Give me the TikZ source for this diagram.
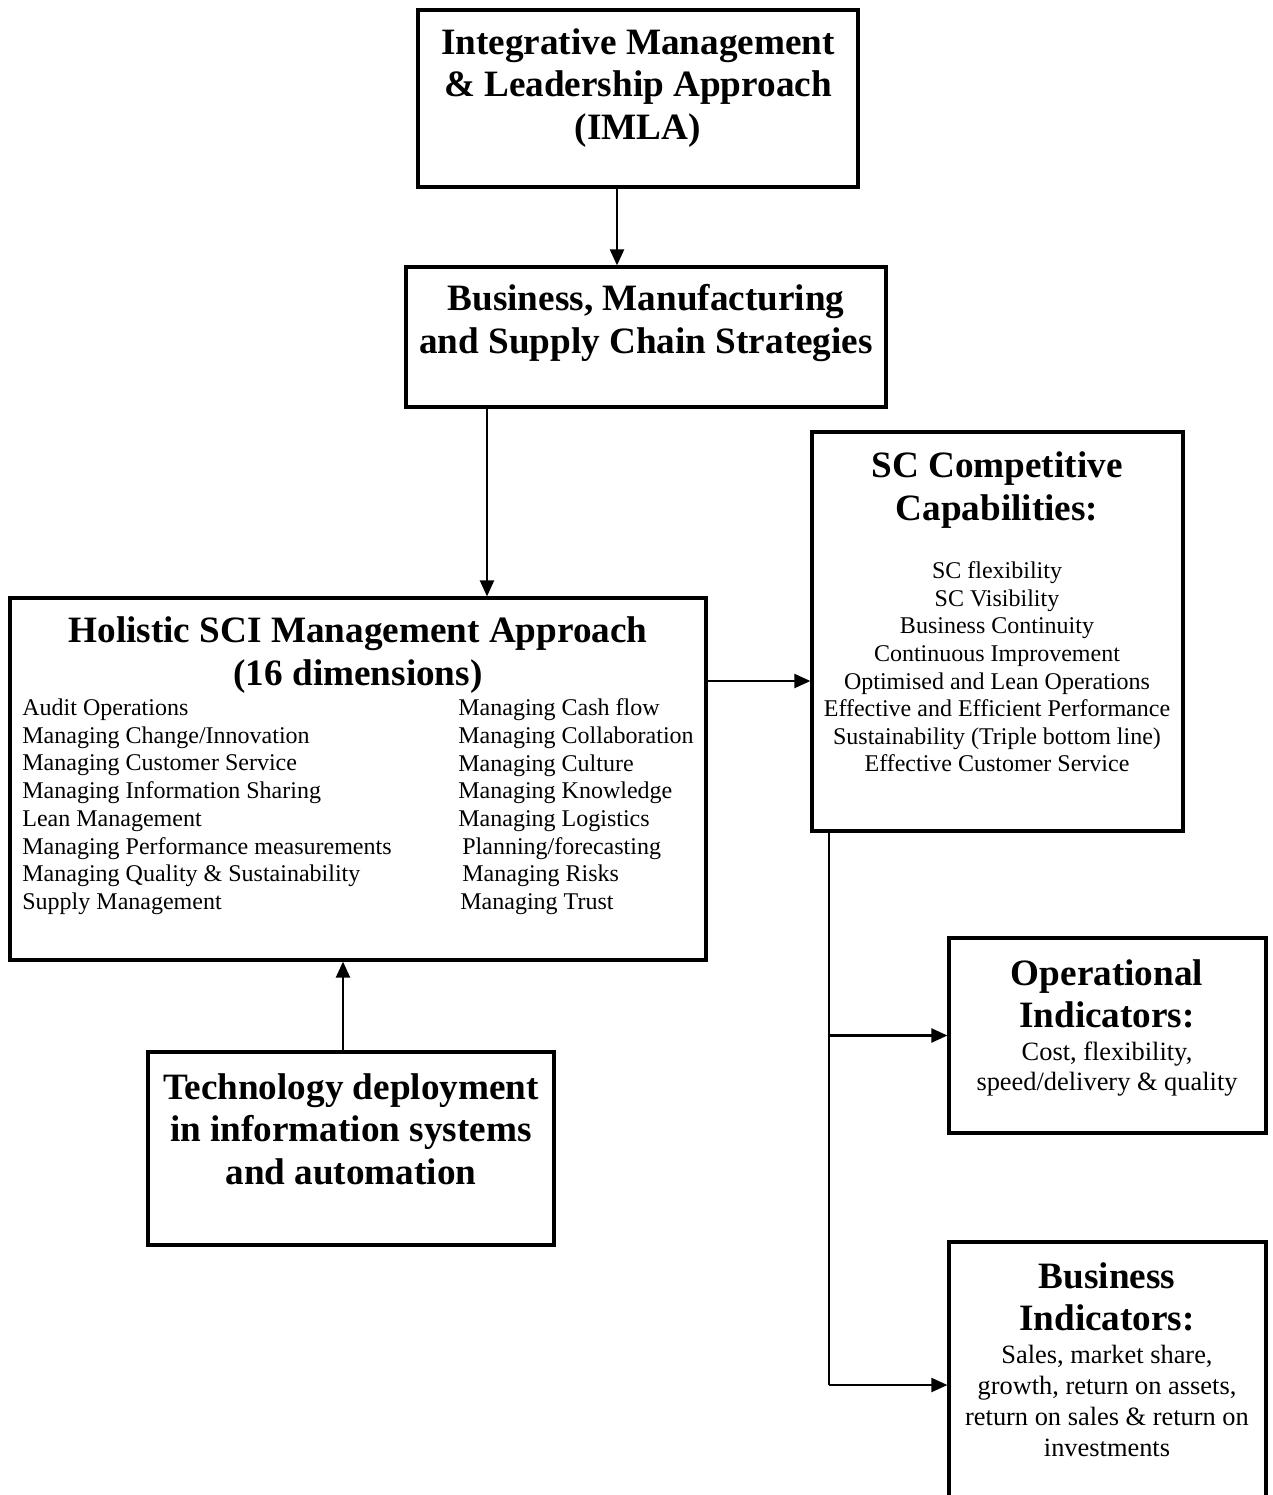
\documentclass[tikz,border=0pt]{standalone}
\usepackage{fontspec}
\setmainfont{Liberation Serif}
\usetikzlibrary{arrows.meta,fit}
\begin{document}
\begin{tikzpicture}[x=0.5pt,y=-0.5pt,
  box/.style={draw=black, line width=1.6pt, inner sep=0pt, rectangle},
  ttl/.style={font=\fontsize{18.6}{21.3}\selectfont\bfseries, align=center, inner sep=0pt},
  txt/.style={font=\fontsize{12}{13.8}\selectfont, align=center, inner sep=0pt},
  ind/.style={font=\fontsize{13.2}{15.4}\selectfont, align=center, inner sep=0pt},
  item/.style={font=\fontsize{12}{13.8}\selectfont, anchor=west, inner sep=0pt},
  link/.style={draw=black, line width=1.1pt},
  arr/.style={link, -{Triangle[length=8pt,width=7pt]}}]
\useasboundingbox (0,0) rectangle (1273,1495);

% boxes
\node[box, fit={(418,10) (858,187)}] (imla) {};
\node[box, fit={(406,267) (886,407)}] (strat) {};
\node[box, fit={(10,598) (706,960)}] (holi) {};
\node[box, fit={(812,432) (1183,831)}] (cap) {};
\node[box, fit={(148,1052) (554,1245)}] (tech) {};
\node[box, fit={(949,938) (1266,1133)}] (oper) {};
\node[box, fit={(949,1242) (1266,1530)}] (busi) {};

% box texts
\node[ttl] (imlaT) at (638,88) {Integrative Management\\\& Leadership Approach\\(IMLA)};
\node[ttl] (stratT) at (646,323) {Business, Manufacturing\\and Supply Chain Strategies};
\node[ttl] (holiT) at (358,655) {Holistic SCI Management Approach\\(16 dimensions)};
\node[ttl] (capT) at (997,490) {SC Competitive\\Capabilities:};
\node[txt] (capL) at (997,667) {SC flexibility\\SC Visibility\\Business Continuity\\Continuous Improvement\\Optimised and Lean Operations\\Effective and Efficient Performance\\Sustainability (Triple bottom line)\\Effective Customer Service};
\node[ttl] (techT) at (351,1129) {Technology deployment\\in information systems\\and automation};
\node[ttl] (operT) at (1107,994) {Operational\\Indicators:};
\node[ind] (operL) at (1107,1069) {Cost, flexibility,\\speed/delivery \& quality};
\node[ttl] (busiT) at (1107,1297) {Business\\Indicators:};
\node[ind] (busiL) at (1107,1401) {Sales, market share,\\growth, return on assets,\\return on sales \& return on\\investments};

% sixteen dimensions, two columns
\foreach \t [count=\i from 0] in {Audit Operations, Managing Change/Innovation,
  Managing Customer Service, Managing Information Sharing, Lean Management,
  Managing Performance measurements, Managing Quality \& Sustainability,
  Supply Management}
  \node[item] (dl\i) at (22,710+27.7*\i) {\t};
\foreach \dx/\t [count=\i from 0] in {0/{Managing Cash flow}, 0/{Managing Collaboration},
  0/{Managing Culture}, 0/{Managing Knowledge}, 0/{Managing Logistics},
  4/{Planning/forecasting}, 4/{Managing Risks}, 2/{Managing Trust}}
  \node[item] (dr\i) at (458+\dx,710+27.7*\i) {\t};

% connector positions
\coordinate (c1) at (617,0);
\coordinate (c2) at (487,0);
\coordinate (c3) at (0,681);
\coordinate (c4) at (343,0);
\coordinate (c5) at (829,0);
\coordinate (c6) at (0,1385);

% connectors
\draw[arr] (imla.south -| c1) -- (strat.north -| c1);
\draw[arr] (strat.south -| c2) -- (holi.north -| c2);
\draw[arr] (holi.east |- c3) -- (cap.west |- c3);
\draw[arr] (tech.north -| c4) -- (holi.south -| c4);
\draw[link] (cap.south -| c5) -- (c5 |- c6);
\draw[arr] (c5 |- oper.west) -- (oper.west);
\draw[arr] (c5 |- c6) -- (busi.west |- c6);
\end{tikzpicture}
\end{document}
